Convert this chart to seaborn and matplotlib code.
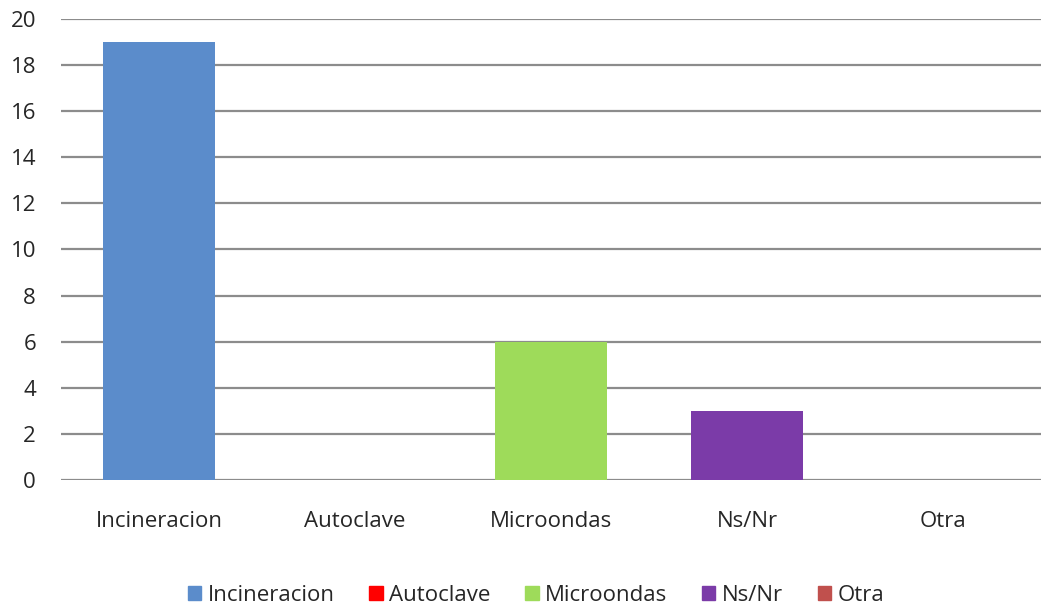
import matplotlib
matplotlib.use("Agg")
import matplotlib.pyplot as plt
import seaborn as sns
import pandas as pd

categorias = ["Incineracion", "Autoclave", "Microondas", "Ns/Nr", "Otra"]
valores = [19, 0, 6, 3, 0]
colores = ["#5B8CCB", "#FF0000", "#9EDB5A", "#7B3BA8", "#C0504D"]
yticks = [0, 2, 4, 6, 8, 10, 12, 14, 16, 18, 20]

sns.set_theme(style="white")
plt.rcParams["font.family"] = ["Open Sans", "DejaVu Sans"]

df = pd.DataFrame({"Tipo": categorias, "Cantidad": valores})

fig = plt.figure(figsize=(10.41, 6.11), dpi=100)
ax = fig.add_axes([0.0586, 0.2144, 0.9414, 0.7546])

sns.barplot(data=df, x="Tipo", y="Cantidad", hue="Tipo", palette=colores,
            order=categorias, hue_order=categorias, width=0.57, dodge=False,
            legend=False, ax=ax, saturation=1, edgecolor="none")

ax.set_ylim(0, 20)
ax.set_yticks(yticks)
ax.yaxis.grid(True, color="#8C8C8C", linewidth=1.6)
ax.set_axisbelow(True)
for s in ax.spines.values():
    s.set_visible(False)
ax.set_xlabel("")
ax.set_ylabel("")
ax.tick_params(axis="y", labelsize=16, length=0, pad=18)
ax.tick_params(axis="x", labelsize=16, length=0, pad=22)

handles = [plt.Rectangle((0, 0), 1, 1, color=c) for c in colores]
fig.legend(handles, categorias, loc="center", bbox_to_anchor=(0.515, 0.025),
           ncol=5, frameon=False, fontsize=16, handlelength=0.6,
           handleheight=0.6, handletextpad=0.3, columnspacing=1.55)

fig.savefig("out.png", dpi=100)
